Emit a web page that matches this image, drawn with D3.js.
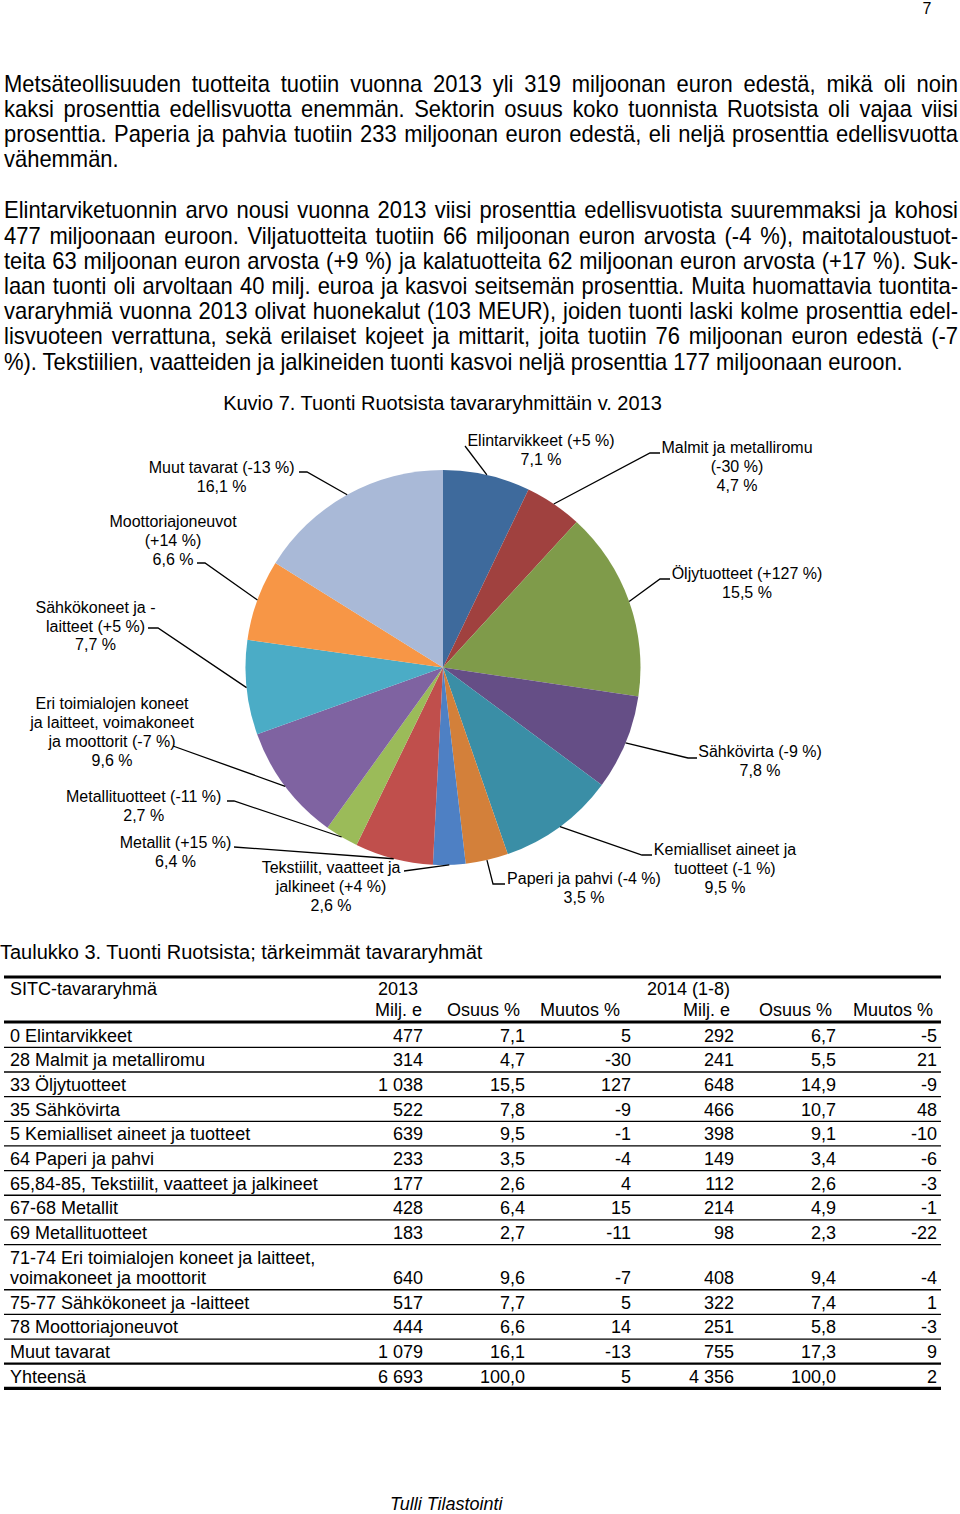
<!DOCTYPE html>
<html><head><meta charset="utf-8">
<script src="https://cdn.jsdelivr.net/npm/d3@7"></script>
<style>
body{margin:0;background:#fff;}
svg{display:block;font-family:"Liberation Sans",Arial,sans-serif;}
</style></head><body>
<svg id="c" width="960" height="1514"></svg>
<script>
// ---------- DATA ----------
const pageNumber = "7";
const para1 = [
  "Metsäteollisuuden tuotteita tuotiin vuonna 2013 yli 319 miljoonan euron edestä, mikä oli noin",
  "kaksi prosenttia edellisvuotta enemmän. Sektorin osuus koko tuonnista Ruotsista oli vajaa viisi",
  "prosenttia. Paperia ja pahvia tuotiin 233 miljoonan euron edestä, eli neljä prosenttia edellisvuotta",
  "vähemmän."
];
const para2 = [
  "Elintarviketuonnin arvo nousi vuonna 2013 viisi prosenttia edellisvuotista suuremmaksi ja kohosi",
  "477 miljoonaan euroon. Viljatuotteita tuotiin 66 miljoonan euron arvosta (-4 %), maitotaloustuot-",
  "teita 63 miljoonan euron arvosta (+9 %) ja kalatuotteita 62 miljoonan euron arvosta (+17 %). Suk-",
  "laan tuonti oli arvoltaan 40 milj. euroa ja kasvoi seitsemän prosenttia. Muita huomattavia tuontita-",
  "vararyhmiä vuonna 2013 olivat huonekalut (103 MEUR), joiden tuonti laski kolme prosenttia edel-",
  "lisvuoteen verrattuna, sekä erilaiset kojeet ja mittarit, joita tuotiin 76 miljoonan euron edestä (-7",
  "%). Tekstiilien, vaatteiden ja jalkineiden tuonti kasvoi neljä prosenttia 177 miljoonaan euroon."
];
const chartTitle = "Kuvio 7. Tuonti Ruotsista tavararyhmittäin v. 2013";
const tableTitle = "Taulukko 3. Tuonti Ruotsista; tärkeimmät tavararyhmät";
const footer = "Tulli Tilastointi";

const groups = [
  ["0 Elintarvikkeet"],
  ["28 Malmit ja metalliromu"],
  ["33 Öljytuotteet"],
  ["35 Sähkövirta"],
  ["5 Kemialliset aineet ja tuotteet"],
  ["64 Paperi ja pahvi"],
  ["65,84-85, Tekstiilit, vaatteet ja jalkineet"],
  ["67-68 Metallit"],
  ["69 Metallituotteet"],
  ["71-74 Eri toimialojen koneet ja laitteet,", "voimakoneet ja moottorit"],
  ["75-77 Sähkökoneet ja -laitteet"],
  ["78 Moottoriajoneuvot"],
  ["Muut tavarat"],
  ["Yhteensä"]
];
const milj2013   = [477, 314, 1038, 522, 639, 233, 177, 428, 183, 640, 517, 444, 1079, 6693];
const share2013  = [7.1, 4.7, 15.5, 7.8, 9.5, 3.5, 2.6, 6.4, 2.7, 9.6, 7.7, 6.6, 16.1, 100.0];
const change2013 = [5, -30, 127, -9, -1, -4, 4, 15, -11, -7, 5, 14, -13, 5];
const milj2014   = [292, 241, 648, 466, 398, 149, 112, 214, 98, 408, 322, 251, 755, 4356];
const share2014  = [6.7, 5.5, 14.9, 10.7, 9.1, 3.4, 2.6, 4.9, 2.3, 9.4, 7.4, 5.8, 17.3, 100.0];
const change2014 = [-5, 21, -9, 48, -10, -6, -3, -1, -22, -4, 1, -3, 9, 2];

const headerTop = ["SITC-tavararyhmä", "2013", "", "", "2014 (1-8)", "", ""];
const headerSub = ["", "Milj. e", "Osuus %", "Muutos %", "Milj. e", "Osuus %", "Muutos %"];

const pieNames = [
  ["Elintarvikkeet (+5 %)"],
  ["Malmit ja metalliromu", "(-30 %)"],
  ["Öljytuotteet (+127 %)"],
  ["Sähkövirta (-9 %)"],
  ["Kemialliset aineet ja", "tuotteet (-1 %)"],
  ["Paperi ja pahvi (-4 %)"],
  ["Tekstiilit, vaatteet ja", "jalkineet (+4 %)"],
  ["Metallit (+15 %)"],
  ["Metallituotteet (-11 %)"],
  ["Eri toimialojen koneet", "ja laitteet, voimakoneet", "ja moottorit (-7 %)"],
  ["Sähkökoneet ja -", "laitteet (+5 %)"],
  ["Moottoriajoneuvot", "(+14 %)"],
  ["Muut tavarat (-13 %)"]
];
const pieColors = ["#3E6A9C", "#A0413F", "#7F9B4A", "#654E86", "#3A8EA6", "#D3803A",
                   "#4E80C4", "#C04F4C", "#9BBB59", "#7F63A1", "#4BACC6", "#F79646", "#A9B9D7"];

// ---------- LAYOUT (positions only) ----------
const pieCx = 443, pieCy = 667.5, pieR = 197.5;
const labelLayout = [
  {x: 541,   y: 446,   pts: [[465, 446]]},
  {x: 737,   y: 453,   pts: [[660, 453], [650, 453]]},
  {x: 747,   y: 579.3, pts: [[670, 579], [660, 579]]},
  {x: 760,   y: 757.3, pts: [[697, 758], [688, 758]]},
  {x: 725,   y: 855,   pts: [[652, 855], [642, 855]]},
  {x: 584,   y: 884,   pts: [[505, 884], [493, 884]]},
  {x: 331,   y: 873.3, pts: [[404, 871]]},
  {x: 175.5, y: 847.7, pts: [[234, 847]]},
  {x: 143.7, y: 801.7, pts: [[227, 801], [234, 801]]},
  {x: 112,   y: 709.3, pts: [[173, 746]]},
  {x: 95.5,  y: 612.7, pts: [[148, 628], [158, 628]]},
  {x: 173,   y: 527.3, pts: [[197, 563], [205, 563]]},
  {x: 221.7, y: 473.3, pts: [[299, 472], [307, 472]]}
];

// ---------- DRAW ----------
const svg = d3.select("#c");
const locale = d3.formatLocale({decimal: ",", thousands: "\u00a0", grouping: [3], currency: ["", ""], minus: "-"});
const fInt = locale.format(",d");
const f1 = locale.format(",.1f");
const fChg = locale.format("d");

svg.append("text").attr("x", 927).attr("y", 14).attr("text-anchor", "middle")
  .attr("font-size", 16).text(pageNumber);

const sx = 0.955;
function para(lines, y0, lh) {
  const g = svg.append("g").attr("font-size", 23);
  lines.forEach((s, i) => {
    const t = g.append("text").attr("transform", `translate(4,${y0 + i * lh}) scale(${sx},1)`).text(s);
    if (i < lines.length - 1) {
      const nat = t.node().getComputedTextLength();
      const sp = (s.match(/ /g) || []).length;
      if (sp) t.style("word-spacing", ((954 / sx - nat) / sp) + "px");
    }
  });
}
para(para1, 91.5, 25.1);
para(para2, 218.3, 25.2);

svg.append("text").attr("x", 442.5).attr("y", 410).attr("text-anchor", "middle")
  .attr("font-size", 20).text(chartTitle);

// pie
const pie = d3.pie().sort(null).value(d => d)(milj2013.slice(0, 13));
const arc = d3.arc().innerRadius(0).outerRadius(pieR);
const edge = d3.arc().innerRadius(pieR).outerRadius(pieR);
const gp = svg.append("g").attr("transform", `translate(${pieCx},${pieCy})`);
gp.selectAll("path").data(pie).join("path")
  .attr("d", arc).attr("fill", (d, i) => pieColors[i]);

const line = d3.line();
const gl = svg.append("g");
pie.forEach((d, i) => {
  const L = labelLayout[i];
  const c = edge.centroid(d);
  const pts = L.pts.concat([[pieCx + c[0], pieCy + c[1]]]);
  gl.append("path").attr("d", line(pts)).attr("fill", "none")
    .attr("stroke", "#000").attr("stroke-width", 1.3);
  const lines = pieNames[i].concat([f1(share2013[i]) + " %"]);
  const t = gl.append("text").attr("text-anchor", "middle").attr("font-size", 16);
  lines.forEach((s, j) => t.append("tspan").attr("x", L.x).attr("y", L.y + j * 18.8).text(s));
});

// table
svg.append("text").attr("x", 0).attr("y", 959).attr("font-size", 20).text(tableTitle);
const tableL = 4, tableR = 941;
const colRight = [423, 525, 631, 734, 836, 937];
const headRight = [418, 520, 620, 730, 832, 933];
const rowH = 24.65;
const rowHeights = groups.map(g => g.length === 1 ? rowH : 45.2);
const rowBottoms = [];
let acc = 1022.7;
rowHeights.forEach(h => { acc += h; rowBottoms.push(acc); });

const gt = svg.append("g").attr("font-size", 18);
gt.append("text").attr("x", 10).attr("y", 995).text(headerTop[0]);
headerTop.slice(1).forEach((s, i) => {
  if (s) gt.append("text").attr("x", i === 0 ? 418 : headRight[i]).attr("y", 995).attr("text-anchor", "end").text(s);
});
headerSub.slice(1).forEach((s, i) => {
  gt.append("text").attr("x", i === 0 ? 422 : headRight[i]).attr("y", 1016).attr("text-anchor", "end").text(s);
});

function hline(y, w) {
  gt.append("line").attr("x1", tableL).attr("x2", tableR).attr("y1", y).attr("y2", y)
    .attr("stroke", "#000").attr("stroke-width", w);
}
hline(977, 3.2);
hline(1022, 3.2);

groups.forEach((g, i) => {
  const base = rowBottoms[i] - 5.6;
  g.forEach((s, j) => {
    gt.append("text").attr("x", 10).attr("y", base - (g.length - 1 - j) * 20).text(s);
  });
  const vals = [fInt(milj2013[i]), f1(share2013[i]), fChg(change2013[i]),
                fInt(milj2014[i]), f1(share2014[i]), fChg(change2014[i])];
  vals.forEach((v, k) => gt.append("text").attr("x", colRight[k]).attr("y", base)
    .attr("text-anchor", "end").text(v));
  const last = i === groups.length - 1, beforeLast = i === groups.length - 2;
  hline(rowBottoms[i], last ? 3.2 : (beforeLast ? 2.2 : 1.3));
});

svg.append("text").attr("x", 390).attr("y", 1510).attr("font-size", 18)
  .attr("font-style", "italic").text(footer);
</script>
</body></html>
